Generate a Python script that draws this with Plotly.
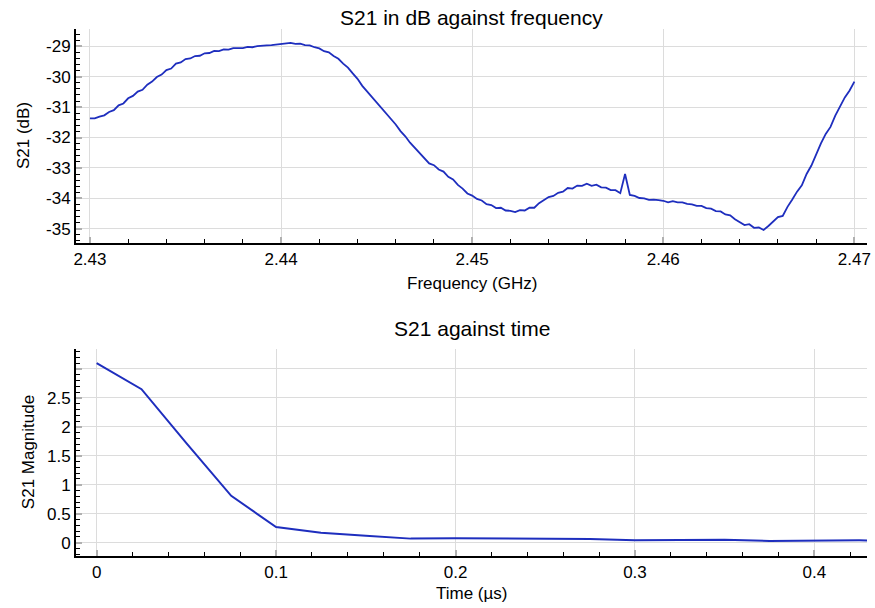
import numpy as np
import plotly.graph_objects as go
from plotly.subplots import make_subplots

# ---- data: S21 sweep (GHz, dB) ----
freq_start_ghz = 2.43
freq_stop_ghz = 2.47
s21_db = [
    -31.37, -31.37, -31.31, -31.27, -31.16, -31.10, -30.94, -30.88, -30.71, -30.63,
    -30.49, -30.43, -30.26, -30.16, -30.01, -29.93, -29.78, -29.73, -29.57, -29.53,
    -29.42, -29.40, -29.32, -29.31, -29.23, -29.22, -29.15, -29.16, -29.10, -29.11,
    -29.06, -29.05, -29.06, -29.02, -29.03, -28.99, -28.99, -28.97, -28.96, -28.94,
    -28.93, -28.91, -28.89, -28.92, -28.91, -28.96, -28.97, -29.03, -29.07, -29.16,
    -29.20, -29.32, -29.41, -29.57, -29.70, -29.89, -30.07, -30.30, -30.48, -30.68,
    -30.84, -31.05, -31.21, -31.41, -31.57, -31.79, -31.96, -32.17, -32.34, -32.52,
    -32.67, -32.85, -32.91, -33.05, -33.12, -33.29, -33.38, -33.56, -33.68, -33.84,
    -33.91, -34.02, -34.07, -34.19, -34.22, -34.32, -34.31, -34.40, -34.41, -34.45,
    -34.39, -34.40, -34.31, -34.31, -34.16, -34.07, -33.96, -33.92, -33.82, -33.78,
    -33.66, -33.68, -33.58, -33.59, -33.52, -33.59, -33.55, -33.64, -33.65, -33.73,
    -33.73, -33.83, -33.20, -33.89, -33.92, -33.99, -34.00, -34.05, -34.04, -34.06,
    -34.08, -34.13, -34.09, -34.13, -34.13, -34.18, -34.20, -34.25, -34.25, -34.32,
    -34.34, -34.42, -34.43, -34.53, -34.56, -34.69, -34.79, -34.88, -34.85, -34.97,
    -34.96, -35.04, -34.91, -34.76, -34.62, -34.58, -34.28, -34.04, -33.78, -33.57,
    -33.20, -32.92, -32.53, -32.19, -31.88, -31.65, -31.28, -30.98, -30.68, -30.45,
    -30.16,
]
freq_ghz = np.linspace(freq_start_ghz, freq_stop_ghz, len(s21_db))

# ---- data: S21 impulse (µs, magnitude) ----
time_us = [0.0, 0.025, 0.05, 0.075, 0.1, 0.125, 0.15, 0.175, 0.2, 0.225,
           0.25, 0.275, 0.3, 0.325, 0.35, 0.375, 0.4, 0.425, 0.45]
s21_mag = [3.10, 2.65, 1.72, 0.81, 0.27, 0.17, 0.12, 0.07, 0.075, 0.07,
           0.065, 0.065, 0.04, 0.05, 0.05, 0.03, 0.04, 0.04, 0.035]

# ---- tick labels ----
db_tick_vals = [-35, -34, -33, -32, -31, -30, -29]
db_tick_text = ["-35", "-34", "-33", "-32", "-31", "-30", "-29"]
mag_tick_vals = [0, 0.5, 1, 1.5, 2, 2.5, 3]
mag_tick_text = ["0", "0.5", "1", "1.5", "2", "2.5", ""]

LINE = "rgb(30,46,190)"
GRID = "#dcdcdc"
FONT = "Liberation Sans, Arial, Helvetica, sans-serif"

fig = make_subplots(rows=2, cols=1)
fig.add_trace(go.Scatter(x=freq_ghz, y=s21_db, mode="lines",
                         line=dict(color=LINE, width=1.8), showlegend=False), row=1, col=1)
fig.add_trace(go.Scatter(x=time_us, y=s21_mag, mode="lines",
                         line=dict(color=LINE, width=2), showlegend=False), row=2, col=1)

common = dict(showline=True, linecolor="black", linewidth=2, mirror=False,
              showgrid=True, gridcolor=GRID, gridwidth=1, zeroline=False,
              ticks="inside", ticklen=6, tickwidth=2, tickcolor="#b0b0b0",
              tickfont=dict(size=17, color="black", family=FONT))

fig.update_xaxes(common, row=1, col=1, range=[2.42927, 2.47066], dtick=0.01, tick0=2.43,
                 minor=dict(dtick=0.002, tick0=2.43, ticks="inside", ticklen=4,
                            tickcolor="black", tickwidth=1, showgrid=False))
fig.update_yaxes(common, row=1, col=1, range=[-35.47, -28.43], tickmode="array",
                 tickvals=db_tick_vals, ticktext=db_tick_text,
                 minor=dict(dtick=0.2, tick0=-35, ticks="inside", ticklen=4,
                            tickcolor="black", tickwidth=1, showgrid=False))
fig.update_xaxes(common, row=2, col=1, range=[-0.0115, 0.4293], dtick=0.1, tick0=0,
                 minor=dict(dtick=0.02, tick0=0, ticks="inside", ticklen=4,
                            tickcolor="black", tickwidth=1, showgrid=False))
fig.update_yaxes(common, row=2, col=1, range=[-0.23, 3.345], tickmode="array",
                 tickvals=mag_tick_vals, ticktext=mag_tick_text,
                 minor=dict(dtick=0.1, tick0=0, ticks="inside", ticklen=4,
                            tickcolor="black", tickwidth=1, showgrid=False))

fig.update_layout(
    width=875, height=608,
    margin=dict(l=76, r=8, t=29, b=52, autoexpand=False),
    paper_bgcolor="white", plot_bgcolor="white",
    font=dict(family=FONT, color="black"),
    xaxis=dict(domain=[0, 1]), yaxis=dict(domain=[0.5939, 1]),
    xaxis2=dict(domain=[0, 1]), yaxis2=dict(domain=[0, 0.3928]),
)

ann = [
    dict(text="S21 in dB against frequency", x=0.5, y=1.0209, size=21),
    dict(text="Frequency (GHz)", x=0.5, y=0.518, size=17),
    dict(text="S21 against time", x=0.5, y=0.4326, size=21),
    dict(text="Time (µs)", x=0.5, y=-0.0721, size=17),
]
for a in ann:
    fig.add_annotation(text=a["text"], x=a["x"], y=a["y"], xref="paper", yref="paper",
                       xanchor="center", yanchor="middle", showarrow=False,
                       font=dict(size=a["size"], family=FONT, color="black"))
fig.add_annotation(text="S21 (dB)", x=-0.0657, y=0.797, xref="paper", yref="paper",
                   textangle=-90, showarrow=False, xanchor="center", yanchor="middle",
                   font=dict(size=17, family=FONT, color="black"))
fig.add_annotation(text="S21 Magnitude", x=-0.0607, y=0.197, xref="paper", yref="paper",
                   textangle=-90, showarrow=False, xanchor="center", yanchor="middle",
                   font=dict(size=17, family=FONT, color="black"))

fig.write_html("out.html", config={"displayModeBar": False},
               post_script="document.body.style.margin='0';document.body.style.padding='0';")
